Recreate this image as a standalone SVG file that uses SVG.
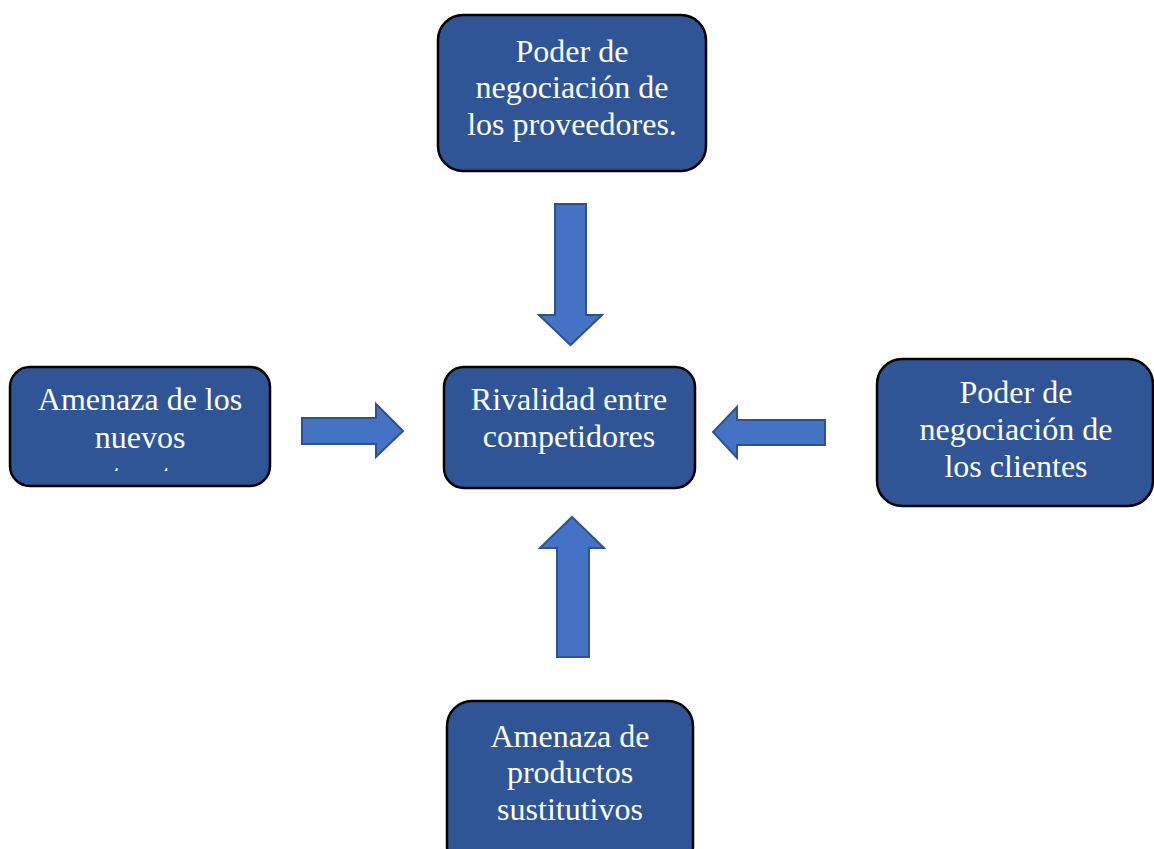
<svg xmlns="http://www.w3.org/2000/svg" width="1154" height="849" viewBox="0 0 1154 849">
<style>
.box{fill:#2F5597;stroke:#000;stroke-width:2.5}
.arr{fill:#4472C4;stroke:#2F528F;stroke-width:2}
.t{font-family:"Liberation Serif","Times New Roman",serif;font-size:32px;fill:#fff;text-anchor:middle}
</style>
<defs>
<clipPath id="clipL"><rect x="10" y="368" width="260" height="103"/></clipPath>
</defs>
<rect width="1154" height="849" fill="#fff"/>
<g id="connectors">
<polygon class="arr" points="555,204 586,204 586,315 602,315 570.5,345 539,315 555,315"/>
<polygon class="arr" points="557,657 589,657 589,548 604,548 572,517 540,548 557,548"/>
<polygon class="arr" points="302,418 376,418 376,404 403,431 376,457 376,444 302,444"/>
<polygon class="arr" points="825,420 737,420 737,407 713,432 737,458 737,445 825,445"/>
</g>
<g id="n-proveedores">
<rect class="box" x="438" y="15" width="268" height="156" rx="25"/>
<text class="t" x="572" y="62">Poder de</text>
<text class="t" x="572" y="98">negociación de</text>
<text class="t" x="572" y="135">los proveedores.</text>
</g>
<g id="n-nuevos">
<rect class="box" x="10" y="367" width="260" height="119" rx="20"/>
<g clip-path="url(#clipL)">
<text class="t" x="140" y="410">Amenaza de los</text>
<text class="t" x="140" y="448">nuevos</text>
<text class="t" x="140" y="486">entrantes</text>
</g>
</g>
<g id="n-rivalidad">
<rect class="box" x="444" y="367" width="251" height="121" rx="20"/>
<text class="t" x="569" y="410">Rivalidad entre</text>
<text class="t" x="569" y="447">competidores</text>
</g>
<g id="n-clientes">
<rect class="box" x="877" y="359" width="276" height="147" rx="25"/>
<text class="t" x="1016" y="403">Poder de</text>
<text class="t" x="1016" y="440">negociación de</text>
<text class="t" x="1016" y="477">los clientes</text>
</g>
<g id="n-sustitutivos">
<rect class="box" x="447" y="701" width="246" height="170" rx="25"/>
<text class="t" x="570" y="747">Amenaza de</text>
<text class="t" x="570" y="783">productos</text>
<text class="t" x="570" y="820">sustitutivos</text>
</g>
</svg>
